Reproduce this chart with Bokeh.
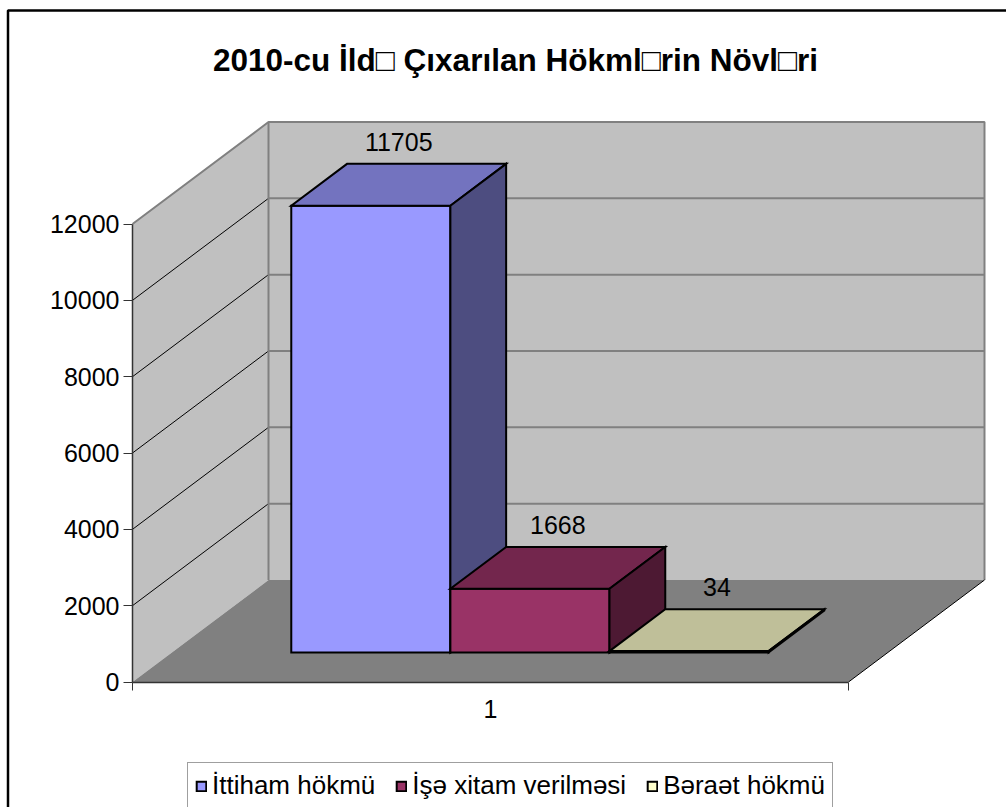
from bokeh.plotting import figure
from bokeh.models import Range1d, LinearAxis, FixedTicker, Legend, LegendItem
from bokeh.core.properties import value
from bokeh.embed import file_html
from bokeh.resources import INLINE

# ---------------- data ----------------
title_text = "2010-cu İld□ Çıxarılan Hökml□rin Növl□ri"
categories = ["1"]
series_names = ["İttiham hökmü", "İşə xitam verilməsi", "Bəraət hökmü"]
series_values = [11705, 1668, 34]
y_ticks = [0, 2000, 4000, 6000, 8000, 10000, 12000]

front_colors = ["#9999FF", "#993366", "#FFFFCC"]
top_colors = ["#7373BF", "#73264D", "#BFBF99"]
side_colors = ["#4D4D80", "#4D1933", "#808066"]

# ---------------- layout constants (page pixels) ----------------
W, H = 1006, 807
PX0, PY0 = 0, 0            # page offset of the canvas
AX_X = 132                 # page x of the front value axis
Y_ZERO, Y_TOP = 681.5, 223.5
CAT_PX = 716               # width of one category on the front floor edge
DEPTH_PX_X, DEPTH_PX_Y = 136, 102
GAP = 1.5                  # gap width (in bar widths)
D0, D1 = 0.29, 0.70        # bar depth span
FONT = "Liberation Sans"

K = (Y_ZERO - Y_TOP) / y_ticks[-1]     # px per value unit


def vy(page_y):
    return (Y_ZERO - page_y) / K


def vx(page_x):
    return 0.5 + (page_x - AX_X) / CAT_PX


DX = DEPTH_PX_X / CAT_PX
DY = DEPTH_PX_Y / K
TOP = y_ticks[-1]
X_L, X_R = 0.5, 0.5 + len(categories)

p = figure(width=W, height=H,
           x_range=Range1d(vx(PX0), vx(PX0 + W)),
           y_range=Range1d(vy(PY0 + H), vy(PY0)),
           output_backend="svg", toolbar_location=None,
           x_axis_location=None, y_axis_location=None,
           min_border=0, outline_line_color=None,
           background_fill_color="white", border_fill_color="white")
p.grid.visible = False

# ---------------- walls & floor ----------------
p.patch([X_L, X_L + DX, X_L + DX, X_L], [0, DY, TOP + DY, TOP],
        fill_color="#C0C0C0", line_color=None)
p.patch([X_L + DX, X_R + DX, X_R + DX, X_L + DX], [DY, DY, TOP + DY, TOP + DY],
        fill_color="#C0C0C0", line_color=None)
p.patch([X_L, X_R, X_R + DX, X_L + DX], [0, 0, DY, DY],
        fill_color="#808080", line_color=None)

# gridlines
grid_vals = y_ticks[1:-1]
p.multi_line([[X_L + DX, X_R + DX] for v in grid_vals], [[v + DY, v + DY] for v in grid_vals],
             line_color="#808080", line_width=2)
p.multi_line([[X_L, X_L + DX] for v in grid_vals], [[v, v + DY] for v in grid_vals],
             line_color="black", line_width=1)
# wall edges
p.line([X_L, X_L + DX, X_R + DX, X_R + DX], [TOP, TOP + DY, TOP + DY, DY],
       line_color="#808080", line_width=2)
p.line([X_L + DX, X_L + DX], [DY, TOP + DY], line_color="#808080", line_width=2)
p.line([X_R, X_R + DX], [0, DY], line_color="black", line_width=1)

# ---------------- 3D bars ----------------
n = len(series_values)
bw = 1.0 / (n + GAP)
ddx = (D1 - D0) * DX
ddy = (D1 - D0) * DY
front_renderers = []
lab_x, lab_y = [], []
for i, v in enumerate(series_values):
    x0 = X_L + GAP / 2 * bw + i * bw + D0 * DX
    x1 = x0 + bw
    y0 = D0 * DY
    y1 = y0 + v
    r = p.patch([x0, x1, x1, x0], [y0, y0, y1, y1], fill_color=front_colors[i],
                line_color="black", line_width=2, line_join="miter")
    front_renderers.append(r)
    p.patch([x0, x1, x1 + ddx, x0 + ddx], [y1, y1, y1 + ddy, y1 + ddy],
            fill_color=top_colors[i], line_color="black", line_width=2, line_join="miter")
    p.patch([x1, x1 + ddx, x1 + ddx, x1], [y0, y0 + ddy, y1 + ddy, y1],
            fill_color=side_colors[i], line_color="black", line_width=2, line_join="miter")
    lab_x.append(x0 + bw / 2 + ddx / 2)
    lab_y.append(y1 + ddy)

p.text(x=lab_x, y=lab_y, text=[str(v) for v in series_values],
       text_font=value(FONT), text_font_size="25px", text_color="black",
       text_align="center", text_baseline="alphabetic", y_offset=-22)

# ---------------- axes ----------------
yax = LinearAxis(fixed_location=X_L, bounds=(0, TOP), ticker=FixedTicker(ticks=y_ticks))
yax.axis_line_color = "#333333"
yax.axis_line_width = 1.5
yax.major_tick_line_color = "#333333"
yax.major_tick_out = 9
yax.major_tick_in = 0
yax.minor_tick_out = 0
yax.minor_tick_in = 0
yax.major_label_standoff = 4
yax.major_label_text_font = FONT
yax.major_label_text_font_size = "25px"
yax.major_label_text_color = "black"
p.add_layout(yax, "left")

xax = LinearAxis(fixed_location=0, bounds=(X_L, X_R), ticker=FixedTicker(ticks=[X_L, X_R]))
xax.axis_line_color = "#333333"
xax.axis_line_width = 1.5
xax.major_tick_line_color = "#333333"
xax.major_tick_out = 8
xax.major_tick_in = 0
xax.minor_tick_out = 0
xax.minor_tick_in = 0
xax.major_label_text_font_size = "0px"
xax.major_label_text_alpha = 0
p.add_layout(xax, "below")

cat_ticks = [i + 1 for i in range(len(categories))]
xlab = LinearAxis(fixed_location=0, ticker=FixedTicker(ticks=cat_ticks),
                  major_label_overrides={t: c for t, c in zip(cat_ticks, categories)})
xlab.axis_line_color = None
xlab.major_tick_line_color = None
xlab.major_tick_out = 0
xlab.major_tick_in = 0
xlab.minor_tick_out = 0
xlab.minor_tick_in = 0
xlab.major_label_standoff = 18
xlab.major_label_text_font = FONT
xlab.major_label_text_font_size = "25px"
xlab.major_label_text_color = "black"
p.add_layout(xlab, "below")

# ---------------- title ----------------
p.text(x=[vx(515)], y=[vy(59)], text=[title_text], text_font=value(FONT),
       text_font_style="bold", text_font_size="31.5px", text_color="black",
       text_align="center", text_baseline="middle")

# ---------------- outer chart border ----------------
p.line([vx(7.5), vx(7.5), vx(PX0 + W + 5)], [vy(PY0 + H + 5), vy(10), vy(10)],
       line_color="black", line_width=2.5)

# ---------------- legend ----------------
legend = Legend(items=[LegendItem(label=nm, renderers=[r]) for nm, r in zip(series_names, front_renderers)],
                orientation="horizontal", location=(187 - PX0, -2), margin=0,
                padding=7, spacing=20, label_standoff=5,
                glyph_width=12, glyph_height=12,
                label_text_font=FONT, label_text_font_size="26px",
                label_text_color="black",
                border_line_color="#404040", border_line_width=1.5,
                background_fill_color="white", background_fill_alpha=1)
p.add_layout(legend)

open("out.html", "w").write(file_html(p, INLINE))
